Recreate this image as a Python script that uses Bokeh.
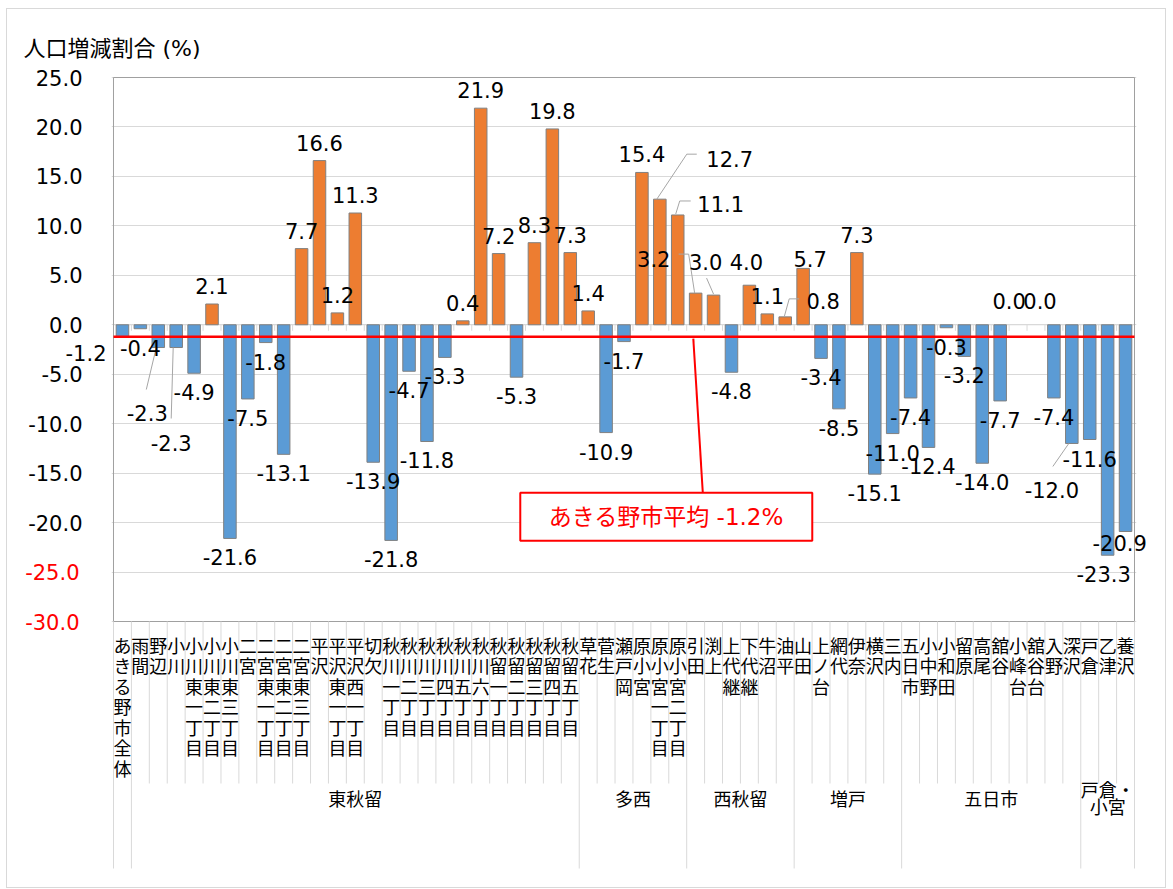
from bokeh.plotting import figure
from bokeh.models import (ColumnDataSource, FactorRange, Range1d, FixedTicker, LabelSet,
                          Span, NumeralTickFormatter, LinearAxis)
from bokeh.layouts import column
from bokeh.embed import file_html
from bokeh.resources import INLINE
from bokeh.core.properties import value

# ---------------- data ----------------
categories = [
    "あきる野市全体", "雨間", "野辺", "小川", "小川東一丁目", "小川東二丁目", "小川東三丁目",
    "二宮", "二宮東一丁目", "二宮東二丁目", "二宮東三丁目", "平沢", "平沢東一丁目", "平沢西一丁目",
    "切欠", "秋川一丁目", "秋川二丁目", "秋川三丁目", "秋川四丁目", "秋川五丁目", "秋川六丁目",
    "秋留一丁目", "秋留二丁目", "秋留三丁目", "秋留四丁目", "秋留五丁目",
    "草花", "菅生", "瀬戸岡", "原小宮", "原小宮一丁目", "原小宮二丁目",
    "引田", "渕上", "上代継", "下代継", "牛沼", "油平",
    "山田", "上ノ台", "網代", "伊奈", "横沢", "三内",
    "五日市", "小中野", "小和田", "留原", "高尾", "舘谷", "小峰台", "舘谷台", "入野", "深沢",
    "戸倉", "乙津", "養沢",
]
values = [
    -1.2, -0.4, -2.3, -2.3, -4.9, 2.1, -21.6,
    -7.5, -1.8, -13.1, 7.7, 16.6, 1.2, 11.3,
    -13.9, -21.8, -4.7, -11.8, -3.3, 0.4, 21.9,
    7.2, -5.3, 8.3, 19.8, 7.3,
    1.4, -10.9, -1.7, 15.4, 12.7, 11.1,
    3.2, 3.0, -4.8, 4.0, 1.1, 0.8,
    5.7, -3.4, -8.5, 7.3, -15.1, -11.0,
    -7.4, -12.4, -0.3, -3.2, -14.0, -7.7, 0.0, 0.0, -7.4, -12.0,
    -11.6, -23.3, -20.9,
]
groups = ["東秋留", "多西", "西秋留", "増戸", "五日市", "戸倉・小宮"]
group_sizes = [25, 6, 6, 6, 10, 3]
average = -1.2
y_ticks = [-30, -25, -20, -15, -10, -5, 0, 5, 10, 15, 20, 25]
red_ticks = [-25, -30]
axis_title = "人口増減割合 (%)"
callout_text = "あきる野市平均 -1.2%"

# ---------------- layout constants ----------------
N = len(categories)
W, H = 1158, 878
LEFT, RIGHT, TOP = 104, 29, 67
PXX = 1023 / N                     # pixels per category
PXY = 544 / 55.0                   # pixels per unit on the value axis
PAD = 1 / PXX                      # 1px of padding at both ends of the category range
FRAME_W = W - LEFT - RIGHT
Y_TOP = 25 + 1 / PXY
Y_BOTTOM = Y_TOP - (H - TOP) / PXY
Y_MIN = min(y_ticks)

ORANGE = "#ED7D31"
BLUE = "#5B9BD5"
NUM_FONT = "DejaVu Sans"
JP_FONT = "Noto Sans CJK JP"
MIX_FONT = "DejaVu Sans, Noto Sans CJK JP"
LABEL_PX = 21
LABEL_SIZE = f"{LABEL_PX}px"
STANDOFF = 29
EM = {"-": 0.361, ".": 0.318}      # DejaVu Sans advance widths (em); digits 0.636


def text_width(s):
    return sum(EM.get(c, 0.636) for c in s) * LABEL_PX


def tab_y(px):
    """value-axis coordinate of a point px pixels below the plot area (category table)"""
    return Y_MIN - px / PXY


# label nudges (pixels: right, down) and leader paths (pixels from bar end)
nudges = {0: (-30, -3), 2: (-11, 46), 3: (-5, 76), 30: (70, -22), 31: (43, 7),
          32: (-42, -16), 33: (-8, -15), 35: (-3, -5), 37: (38, 2), 38: (7, 9),
          50: (-9, -6), 51: (4, -6), 53: (-20, 28), 55: (-4, 0), 56: (-7, -7)}
leaders = {2: [(-2, 0), (-12, 42)], 3: [(-3, 0), (-5, 71)],
           30: [(-3, 0), (27, -45), (37, -45)], 31: [(-2, -1), (2, -14), (13, -14)],
           32: [(-1, 0), (-7, -39), (-17, -39)], 33: [(0, -1), (-7, -17)],
           37: [(-1, 0), (4, -18), (14, -18)], 53: [(-3, 0), (-19, 23)]}

# ---------------- figure ----------------
p = figure(width=W, height=H,
           x_range=FactorRange(factors=categories, range_padding=2 * PAD, range_padding_units="absolute"),
           y_range=Range1d(Y_BOTTOM, Y_TOP),
           x_axis_location=None, output_backend="svg", toolbar_location=None,
           min_border_left=LEFT, min_border_right=RIGHT, min_border_top=TOP, min_border_bottom=0,
           outline_line_color=None, background_fill_color="white", title=axis_title)
p.title.align = "left"
p.title.offset = -88
p.title.standoff = 32
p.title.text_font = MIX_FONT
p.title.text_font_size = "22px"
p.title.text_font_style = "normal"
p.title.text_color = "black"


def style_axis(ax, color, standoff):
    ax.axis_line_color = None
    ax.major_tick_line_color = None
    ax.minor_tick_line_color = None
    ax.major_tick_out = 0
    ax.major_tick_in = 0
    ax.minor_tick_out = 0
    ax.minor_tick_in = 0
    ax.major_label_standoff = standoff
    ax.major_label_text_font = NUM_FONT
    ax.major_label_text_font_size = LABEL_SIZE
    ax.major_label_text_color = color


black_ticks = [t for t in y_ticks if t not in red_ticks]
yaxis = p.yaxis[0]
yaxis.ticker = FixedTicker(ticks=black_ticks)
yaxis.formatter = NumeralTickFormatter(format="0.0")
style_axis(yaxis, "black", STANDOFF)
left_used = STANDOFF + max(text_width(f"{t:.1f}") for t in black_ticks)

# red tick labels (-25, -30) on a second axis pulled back under the first one
red_standoff = int(round(STANDOFF - left_used))
red_axis = LinearAxis(ticker=FixedTicker(ticks=red_ticks), formatter=NumeralTickFormatter(format="0.0"))
style_axis(red_axis, "#ff0000", red_standoff)
p.add_layout(red_axis, "left")
left_used += max(text_width(f"{t:.1f}") for t in red_ticks) + red_standoff

p.ygrid.ticker = FixedTicker(ticks=y_ticks)
p.ygrid.grid_line_color = "#d9d9d9"
p.xgrid.visible = False

# plot-area border
x_lo, x_hi = 0, N
p.segment(x0=[x_lo, x_lo, x_lo, x_hi], y0=[25, Y_MIN, Y_MIN, Y_MIN],
          x1=[x_hi, x_hi, x_lo, x_hi], y1=[25, Y_MIN, 25, 25],
          line_color="#a0a0a0", line_width=1)

# category axis at zero with ticks at category boundaries
bounds = list(range(N + 1))
p.segment(x0=[x_lo], y0=[0], x1=[x_hi], y1=[0], line_color="#d9d9d9", line_width=1, level="underlay")
p.segment(x0=bounds, y0=[0] * len(bounds), x1=bounds, y1=[-6 / PXY] * len(bounds),
          line_color="#d9d9d9", line_width=1, level="underlay")

colors = [ORANGE if v > 0 else BLUE for v in values]
src = ColumnDataSource(dict(cat=categories, value=values, color=colors,
                            lalpha=[0 if v == 0 else 1 for v in values]))
p.vbar(x="cat", top="value", bottom=0, width=0.7, fill_color="color",
       line_color="#808080", line_alpha="lalpha", line_width=1, source=src)

# average line
p.segment(x0=[x_lo], y0=[average], x1=[x_hi], y1=[average], line_color="#ff0000", line_width=2.5)

# data labels
lx, ly, lt = [], [], []
left_out, right_out = [], []
for i, v in enumerate(values):
    dx, dy = nudges.get(i, (0, 0))
    base = -18 if v >= 0 else 19
    x = i + 0.5 + dx / PXX
    y = v - (base + dy) / PXY
    txt = f"{v:.1f}"
    sx = (x + PAD) * PXX               # pixels from the frame's left edge
    w = text_width(txt)
    if sx - w / 2 < 0:
        left_out.append((round(y, 3), -(sx + w / 2), txt))
    elif sx + w / 2 > FRAME_W:
        right_out.append((round(y, 3), sx - w / 2 - FRAME_W, txt))
    else:
        lx.append(x)
        ly.append(y)
        lt.append(txt)
lsrc = ColumnDataSource(dict(x=lx, y=ly, text=lt))
p.add_layout(LabelSet(x="x", y="y", text="text", source=lsrc, text_align="center",
                      text_baseline="middle", text_font=value(NUM_FONT),
                      text_font_size=value(LABEL_SIZE), text_color="black"))

# data labels that stick out of the plot frame: labels of further stacked axes
for y, gap, txt in left_out:
    ax = LinearAxis(ticker=FixedTicker(ticks=[y]), major_label_overrides={y: txt})
    st = int(round(gap - left_used))
    style_axis(ax, "black", st)
    p.add_layout(ax, "left")
    left_used += text_width(txt) + st
right_used = 0
for y, gap, txt in right_out:
    ax = LinearAxis(ticker=FixedTicker(ticks=[y]), major_label_overrides={y: txt})
    st = int(round(gap - right_used))
    style_axis(ax, "black", st)
    p.add_layout(ax, "right")
    right_used += text_width(txt) + st

# leader lines
lxs, lys = [], []
for i, path in leaders.items():
    v = values[i]
    lxs.append([i + 0.5 + dx / PXX for dx, dy in path])
    lys.append([v - dy / PXY for dx, dy in path])
p.multi_line(xs=lxs, ys=lys, line_color="#a6a6a6", line_width=1)

# callout for the average
cx, cy = 30.86, -19.4
p.segment(x0=[32.37], y0=[average - 0.2], x1=[32.9], y1=[-17.0], line_color="#ff0000", line_width=2)
p.rect(x=[cx], y=[cy], width=292, height=48, width_units="screen", height_units="screen",
       fill_color="white", line_color="#ff0000", line_width=2)
p.text(x=[cx], y=[cy], text=[callout_text], text_align="center", text_baseline="middle",
       text_font=value(MIX_FONT), text_font_size=value("23px"), text_color="#ff0000")

# ---------------- category table below the plot area ----------------
group_bounds = [0, 1]
for s in group_sizes:
    group_bounds.append(group_bounds[-1] + s)
inner = [b for b in bounds if b not in group_bounds]
p.segment(x0=inner, y0=[Y_MIN] * len(inner), x1=inner, y1=[tab_y(162)] * len(inner),
          line_color="#d9d9d9", line_width=1)
p.segment(x0=group_bounds, y0=[Y_MIN] * len(group_bounds), x1=group_bounds,
          y1=[tab_y(247)] * len(group_bounds), line_color="#d9d9d9", line_width=1)

cx_, cy_, ct_ = [], [], []
for i, name in enumerate(categories):
    for k, ch in enumerate(name):
        cx_.append(i + 0.5)
        cy_.append(tab_y(23 + 20.5 * k))
        ct_.append(ch)
p.text(x=cx_, y=cy_, text=ct_, text_align="center", text_baseline="middle",
       text_font=value(JP_FONT), text_font_size=value("18px"), text_color="black")

gx, gy, gt = [], [], []
for g, s, b0 in zip(groups, group_sizes, group_bounds[1:]):
    lines = [g[j:j + s] for j in range(0, len(g), s)]
    for k, ln in enumerate(lines):
        gx.append(b0 + s / 2)
        gy.append(tab_y(176 + (k - (len(lines) - 1) / 2) * 17))
        gt.append(ln)
p.text(x=gx, y=gy, text=gt, text_align="center", text_baseline="middle",
       text_font=value(JP_FONT), text_font_size=value("18px"), text_color="black")

layout = column(p, margin=(8, 0, 0, 6), styles={"border": "1px solid #d9d9d9"})
open("out.html", "w").write(file_html(layout, INLINE))
